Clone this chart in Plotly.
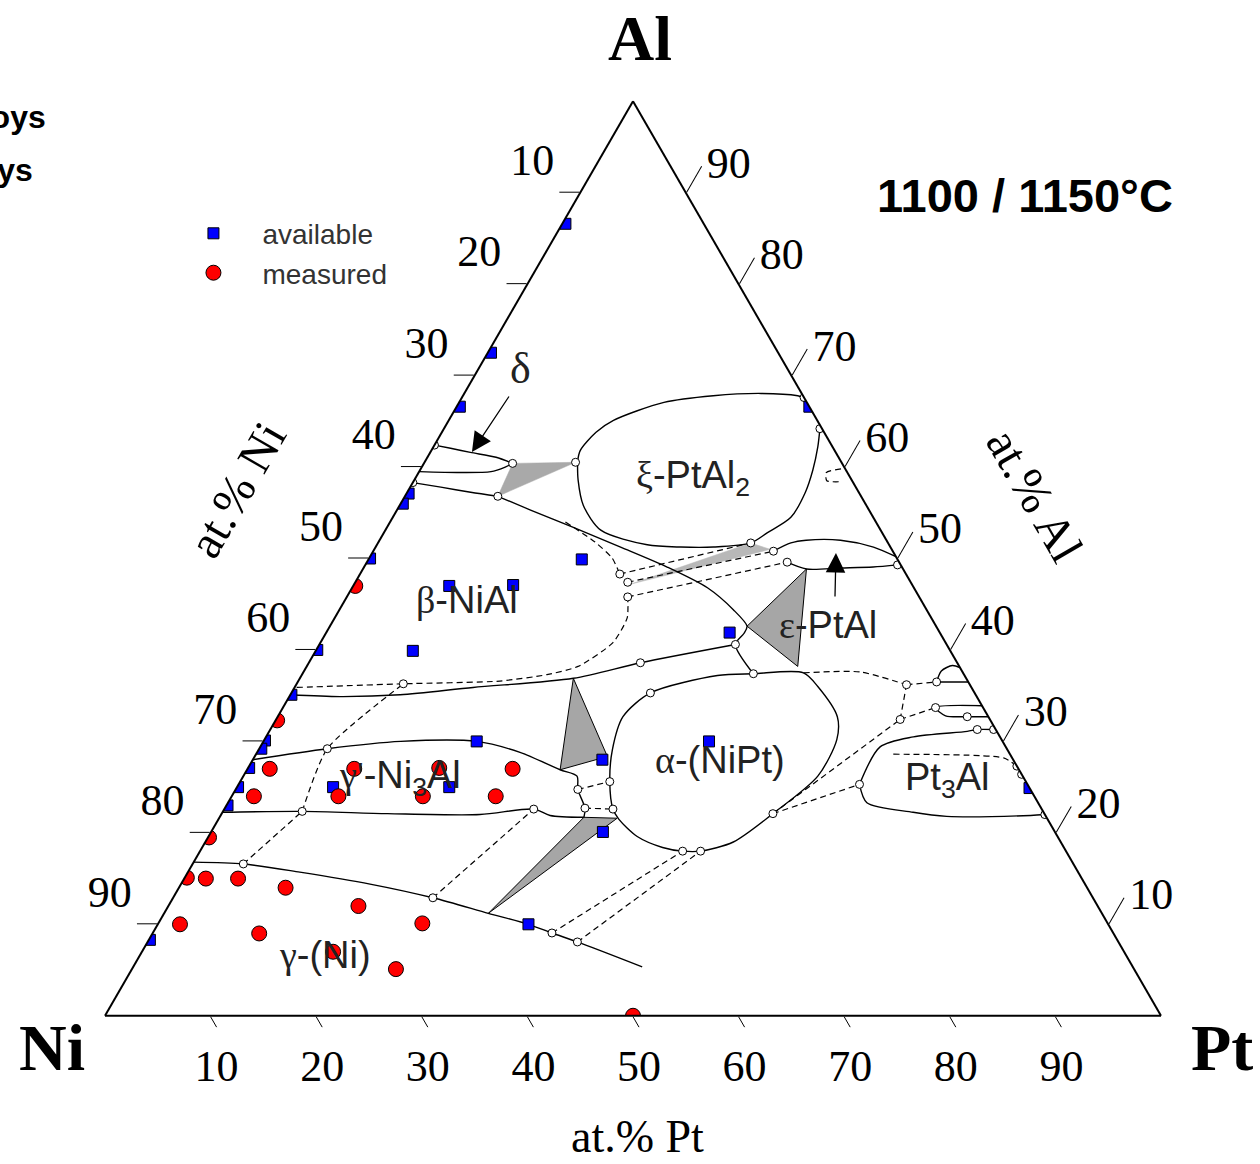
import plotly.graph_objects as go

# ---------------- alloys (at.% Al, at.% Pt ; Ni = balance) ----------------
AVAIL_AL = [86.6, 72.5, 66.6, 57.1, 56.0, 50.0, 40.0, 35.1, 30.1, 29.2, 27.1, 25.0, 23.0, 8.3,
            25.0, 25.0, 30.0, 47.0, 47.1, 39.9, 49.9, 41.9, 66.6, 24.9, 30.0, 28.0, 20.1, 10.0]
AVAIL_PT = [0.3, 0.3, 0.3, 0.2, 0.2, 0.1, 0.1, 0.1, 0.1, 0.2, 0.1, 0.1, 0.1, 0.1,
            9.1, 20.1, 20.2, 9.1, 15.1, 9.2, 20.2, 38.2, 33.4, 75.1, 42.2, 33.1, 37.1, 35.1]

MEAS_AL = [47.0, 32.3, 27.0, 24.0, 19.5, 15.1, 15.0, 15.0, 14.0, 10.0, 9.0, 12.0, 10.1, 7.0, 5.1,
           0.0, 27.0, 24.0, 27.1, 24.0, 27.0, 24.0]
MEAS_PT = [0.2, 0.15, 2.1, 2.1, 0.1, 0.2, 2.05, 5.1, 10.1, 2.1, 10.1, 18.0, 25.0, 18.1, 25.0,
           50.0, 10.1, 10.1, 18.1, 18.1, 25.1, 25.0]

# ---------------- phase boundaries (solid) ----------------
DELTA_TOP_AL = [62.4, 62.05, 61.6, 61.07, 60.4]
DELTA_TOP_PT = [0.0, 1.7, 3.8, 6.5, 8.4]
DELTA_BOT_AL = [59.5, 59.4, 59.5, 60.0, 60.4]
DELTA_BOT_PT = [0.0, 4.0, 6.8, 7.9, 8.4]

BETA_TOP_AL = [58.3, 57.8, 57.25, 56.8]
BETA_TOP_PT = [0.0, 2.9, 6.0, 8.8]
BETA_RIGHT_AL = [56.8, 55.3, 53.4, 51.25, 49.07, 46.8, 44.4, 42.6, 41.8, 40.6, 37.4]
BETA_RIGHT_PT = [8.8, 12.65, 17.65, 23.2, 28.7, 33.65, 37.3, 39.5, 39.6, 39.4, 42.7]
BETA_BOT_AL = [35.1, 34.9, 35.1, 35.9, 36.9, 38.6, 40.6]
BETA_BOT_PT = [0.0, 4.8, 10.4, 16.9, 25.9, 31.4, 39.4]

XI_TOP_AL = [60.6, 61.8, 63.8, 65.1, 67.07, 67.8, 68.05, 67.8, 67.6]
XI_TOP_PT = [14.45, 14.1, 14.6, 15.6, 19.4, 23.7, 28.1, 31.7, 32.4]
XI_BOT_AL = [64.2, 62.2, 59.65, 57.25, 54.5, 52.8, 51.7, 51.25, 51.25, 51.5, 53.1, 55.8, 58.6, 60.6]
XI_BOT_PT = [35.6, 36.4, 37.2, 37.7, 37.7, 36.3, 35.3, 32.0, 28.9, 25.6, 20.4, 17.4, 15.5, 14.45]

EPS_TOP_AL = [50.8, 51.7, 52.0, 52.0, 51.25, 50.2]
EPS_TOP_PT = [37.9, 39.1, 40.4, 43.65, 47.15, 49.8]
EPS_BOT_AL = [49.6, 48.85, 48.96, 49.07, 49.3]
EPS_BOT_PT = [39.8, 42.0, 45.2, 48.2, 50.4]

ALPHA_AL = [21.5, 19.6, 18.4, 18.0, 18.0, 19.0, 22.1, 26.2, 30.2, 32.7, 36.0, 37.5, 37.4, 37.2,
            35.3, 32.7, 29.1, 25.6, 22.6, 21.5]
ALPHA_PT = [37.9, 40.6, 43.6, 45.7, 47.4, 50.0, 52.2, 54.4, 54.2, 53.0, 49.5, 47.4, 42.7, 39.4,
            34.0, 32.7, 33.5, 35.0, 36.8, 37.9]

GP_TOP_AL = [28.0, 29.2, 30.0, 30.0, 28.8, 26.9, 26.2, 24.75, 22.7, 21.7]
GP_TOP_PT = [0.0, 6.45, 13.0, 20.2, 24.9, 29.65, 31.6, 32.4, 34.1, 34.5]
GP_BOT_AL = [22.25, 22.35, 22.1, 22.0, 22.6, 21.9, 21.7]
GP_BOT_PT = [0.0, 7.5, 15.7, 24.5, 29.3, 31.2, 34.5]

GAMMA_AL = [16.8, 16.6, 15.7, 14.4, 12.9, 11.2, 10.0, 9.05, 8.07, 5.34]
GAMMA_PT = [0.0, 4.8, 10.6, 17.9, 24.6, 30.7, 35.1, 37.8, 40.7, 48.2]

PT3AL_TOP_AL = [25.3, 29.4, 30.5, 31.1, 31.3, 31.3]
PT3AL_TOP_PT = [58.8, 58.7, 61.3, 66.1, 66.95, 68.5]
PT3AL_BOT_AL = [25.3, 23.3, 22.25, 21.8, 21.9, 22.0]
PT3AL_BOT_PT = [58.8, 60.5, 65.4, 68.8, 76.7, 78.0]

SMALL_A_AL = [36.5, 37.7, 38.3, 38.06]
SMALL_A_PT = [60.5, 60.35, 61.1, 61.94]
SMALL_B_AL = [36.5, 36.5]
SMALL_B_PT = [60.5, 63.5]
SMALL_C_AL = [33.9, 33.7, 32.8, 32.7, 32.7]
SMALL_C_PT = [66.1, 61.8, 63.2, 65.3, 67.3]

# ---------------- dashed lines (Al list, Pt list) ----------------
DASH_LINES = {
    "beta_par": ([54.0, 51.8, 50.05, 48.3], [16.6, 20.5, 23.0, 24.6]),
    "beta_low": ([35.9, 36.3, 36.6, 37.3, 38.2, 40.8, 43.5, 45.8], [0.2, 10.1, 19.1, 23.2, 25.7, 27.7, 27.7, 26.6]),
    "t1": ([48.3, 51.7], [24.6, 35.3]),
    "t2": ([47.4, 50.8], [25.8, 37.9]),
    "t3": ([45.8, 49.6], [26.6, 39.8]),
    "xi_small": ([59.8, 59.4, 58.5, 58.4], [39.8, 38.6, 39.1, 40.6]),
    "alpha_r": ([37.5, 37.6, 36.2], [47.4, 52.7, 57.8]),
    "g1": ([16.6, 22.35], [4.8, 7.5]),
    "g2": ([22.35, 29.2, 36.3], [7.5, 6.45, 10.1]),
    "g3": ([12.9, 22.6], [24.6, 29.3]),
    "g4": ([9.05, 18.0], [37.8, 45.7]),
    "g5": ([8.07, 18.0], [40.7, 47.4]),
    "a1": ([22.1, 32.4], [52.2, 59.1]),
    "a2": ([22.1, 25.3], [52.2, 58.8]),
    "r1": ([32.4, 36.2], [59.1, 57.8]),
    "r2": ([32.4, 33.7], [59.1, 61.8]),
    "r3": ([36.2, 36.5], [57.8, 60.5]),
    "m1": ([24.75, 25.6], [32.4, 35.0]),
    "m2": ([22.7, 22.6], [34.1, 36.8]),
    "pt3al": ([28.6, 28.2, 27.3], [60.35, 71.0, 72.7]),
}

# ---------------- three-phase triangles ----------------
TRI_DELTA_AL, TRI_DELTA_PT = [60.4, 60.52, 56.8, 60.4], [8.4, 14.3, 8.8, 8.4]
TRI_SLIVER_AL, TRI_SLIVER_PT = [47.2, 51.7, 51.0, 47.2], [26.2, 35.3, 37.5, 26.2]
TRI_EPS_AL, TRI_EPS_PT = [42.6, 48.85, 38.2, 42.6], [39.5, 42.0, 46.5, 39.5]
TRI_BGA_AL, TRI_BGA_PT = [36.9, 26.9, 28.35, 36.9], [25.9, 29.65, 33.4, 25.9]
TRI_GGA_AL, TRI_GGA_PT = [21.7, 21.6, 11.2, 21.7], [34.5, 37.7, 30.7, 34.5]

# ---------------- tie-line end points ----------------
NODE_AL = [62.4, 60.4, 60.52, 56.8, 58.3, 48.3, 47.4, 45.8, 51.7, 50.8, 49.6, 49.3, 67.6, 64.2,
           40.6, 37.4, 38.6, 35.3, 36.3, 29.2, 22.35, 16.6, 12.9, 22.6, 24.75, 22.7, 25.6, 22.6,
           9.05, 8.07, 18.0, 18.0, 22.1, 25.3, 32.4, 36.2, 36.5, 33.7, 32.7, 31.3, 31.3, 27.3, 26.4, 22.0]
NODE_PT = [0.0, 8.4, 14.3, 8.8, 0.0, 24.6, 25.8, 26.6, 35.3, 37.9, 39.8, 50.4, 32.4, 35.6,
           39.4, 42.7, 31.4, 34.0, 10.1, 6.45, 7.5, 4.8, 24.6, 29.3, 32.4, 34.1, 35.0, 36.8,
           37.8, 40.7, 45.7, 47.4, 52.2, 58.8, 59.1, 57.8, 60.5, 61.8, 65.3, 66.95, 68.5, 72.7, 73.6, 78.0]

TICKS = [10, 20, 30, 40, 50, 60, 70, 80, 90]

SERIF = "Liberation Serif, Times New Roman, serif"
SANS = "Liberation Sans, Arial, sans-serif"

fig = go.Figure()


def tern_line(al, pt, dash="solid", width=1.4, smoothing=0.8):
    fig.add_trace(go.Scatterternary(
        a=al, c=pt, mode="lines", showlegend=False, hoverinfo="skip",
        line=dict(color="black", width=width, dash=dash, shape="spline", smoothing=smoothing)))


def tern_fill(al, pt, color, outline):
    fig.add_trace(go.Scatterternary(
        a=al, c=pt, mode="lines", fill="toself", fillcolor=color, showlegend=False,
        hoverinfo="skip",
        line=dict(color="black" if outline else color, width=1.0 if outline else 0.5)))


# fills
tern_fill(TRI_DELTA_AL, TRI_DELTA_PT, "#a9a9a9", False)
tern_fill(TRI_SLIVER_AL, TRI_SLIVER_PT, "#b8b8b8", False)
tern_fill(TRI_EPS_AL, TRI_EPS_PT, "#a6a6a6", True)
tern_fill(TRI_BGA_AL, TRI_BGA_PT, "#a6a6a6", True)
tern_fill(TRI_GGA_AL, TRI_GGA_PT, "#a6a6a6", True)

# solid boundaries
for al, pt in [(DELTA_TOP_AL, DELTA_TOP_PT), (DELTA_BOT_AL, DELTA_BOT_PT),
               (BETA_TOP_AL, BETA_TOP_PT), (BETA_RIGHT_AL, BETA_RIGHT_PT),
               (BETA_BOT_AL, BETA_BOT_PT), (XI_TOP_AL, XI_TOP_PT), (XI_BOT_AL, XI_BOT_PT),
               (EPS_TOP_AL, EPS_TOP_PT), (EPS_BOT_AL, EPS_BOT_PT), (ALPHA_AL, ALPHA_PT),
               (GP_TOP_AL, GP_TOP_PT), (GP_BOT_AL, GP_BOT_PT), (GAMMA_AL, GAMMA_PT),
               (PT3AL_TOP_AL, PT3AL_TOP_PT), (PT3AL_BOT_AL, PT3AL_BOT_PT),
               (SMALL_A_AL, SMALL_A_PT), (SMALL_B_AL, SMALL_B_PT), (SMALL_C_AL, SMALL_C_PT)]:
    tern_line(al, pt)

# dashed lines
for al, pt in DASH_LINES.values():
    tern_line(al, pt, dash="6px,4px", width=1.2, smoothing=0.6)

# open circles
fig.add_trace(go.Scatterternary(
    a=NODE_AL, c=NODE_PT, mode="markers", showlegend=False, hoverinfo="skip",
    marker=dict(symbol="circle", size=8, color="white", line=dict(color="black", width=1))))

# alloys
fig.add_trace(go.Scatterternary(
    a=AVAIL_AL, c=AVAIL_PT, mode="markers", name="available",
    marker=dict(symbol="square", size=11, color="#0000ff", line=dict(color="black", width=1))))
fig.add_trace(go.Scatterternary(
    a=MEAS_AL, c=MEAS_PT, mode="markers", name="measured",
    marker=dict(symbol="circle", size=15, color="#ff0000", line=dict(color="black", width=1))))


def axis(ticktext, ticklen):
    return dict(
        title=dict(text=""), tickvals=TICKS, ticktext=ticktext,
        ticks="outside", ticklen=ticklen, tickwidth=1.2, tickcolor="black",
        linecolor="black", linewidth=2, showgrid=False, min=0,
        tickfont=dict(family=SERIF, size=44, color="black"),
    )


fig.update_layout(
    width=1260, height=1164,
    margin=dict(l=105, r=99, t=101, b=148),
    paper_bgcolor="white",
    font=dict(family=SANS, color="black"),
    ternary=dict(
        sum=100, bgcolor="white",
        aaxis=axis([f"{100 - v}<br> " for v in TICKS], 20),
        baxis=axis([str(100 - v) for v in TICKS], 12),
        caxis=axis([str(100 - v) for v in TICKS], 30),
    ),
    legend=dict(x=0.0563, y=0.8824, xanchor="left", yanchor="top", bgcolor="rgba(0,0,0,0)",
                font=dict(family=SANS, size=28, color="#333333"), itemwidth=88),
)


def note(x, y, text, size, family=SANS, color="black", angle=0, xanchor="center"):
    fig.add_annotation(x=x, y=y, xref="paper", yref="paper", text=text, showarrow=False,
                       xanchor=xanchor, yanchor="middle", textangle=angle,
                       font=dict(family=family, size=size, color=color))


G = "font-family:Liberation Serif"
# phase labels
note(0.557, 0.588, f"<span style='{G}'>ξ</span>-PtAl<sub>2</sub>", 38, color="#222222")
note(0.343, 0.4546, f"<span style='{G}'>β</span>-NiAl", 38, color="#222222")
note(0.6847, 0.4273, f"<span style='{G}'>ε</span>-PtAl", 38, color="#222222")
note(0.5824, 0.2798, f"<span style='{G}'>α</span>-(NiPt)", 38, color="#222222")
note(0.798, 0.258, "Pt<sub>3</sub>Al", 38, color="#222222")
note(0.279, 0.260, f"<span style='{G}'>γ'</span>-Ni<sub>3</sub>Al", 38, color="#222222")
note(0.2083, 0.0667, f"<span style='{G}'>γ</span>-(Ni)", 38, color="#222222")
note(0.393, 0.708, "δ", 44, family=SERIF, color="#222222")

# arrows
fig.add_annotation(x=0.3475, y=0.6164, xref="paper", yref="paper", text="", showarrow=True,
                   ax=38, ay=-57, arrowhead=2, arrowsize=3, arrowwidth=1.3, arrowcolor="black")
fig.add_annotation(x=0.6922, y=0.506, xref="paper", yref="paper", text="", showarrow=True,
                   ax=-1, ay=45, arrowhead=2, arrowsize=3, arrowwidth=1.3, arrowcolor="black")

# corner labels
note(0.5066, 1.068, "<b>Al</b>", 64, family=SERIF)
note(-0.0502, -0.0339, "<b>Ni</b>", 66, family=SERIF)
note(1.0578, -0.0339, "<b>Pt</b>", 66, family=SERIF)

# axis labels along the edges
note(0.125, 0.575, "at.% Ni", 48, family=SERIF, angle=-60)
note(0.881, 0.569, "at.% Al", 48, family=SERIF, angle=60)
note(0.504, -0.132, "at.% Pt", 46, family=SERIF)

# temperature
note(0.871, 0.897, "<b>1100 / 1150°C</b>", 47)
# cut-off text at top-left
note(-0.054, 0.9825, "<b>alloys</b>", 32, xanchor="right")
note(-0.0665, 0.9246, "<b>alloys</b>", 32, xanchor="right")

fig.write_html("out.html")
